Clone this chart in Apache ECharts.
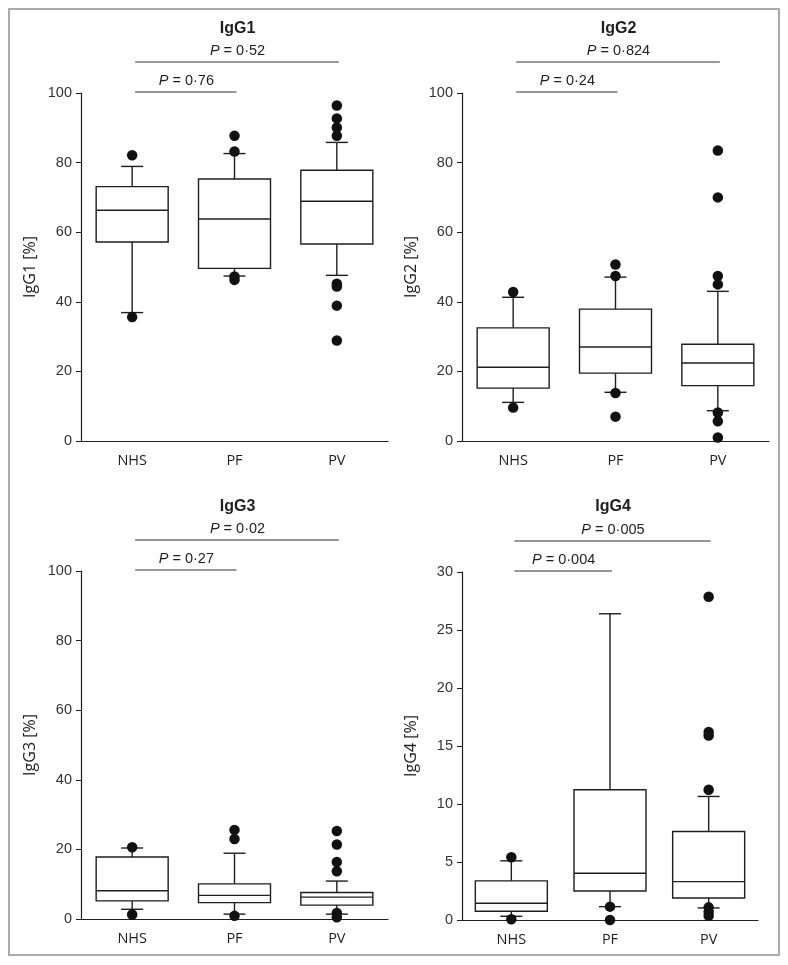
<!DOCTYPE html>
<html>
<head>
<meta charset="utf-8">
<script src="https://cdn.jsdelivr.net/npm/echarts@6/dist/echarts.min.js"></script>
<style>
html,body{margin:0;padding:0;background:#fff;}
#chart{width:788px;height:965px;}
</style>
</head>
<body>
<div id="chart"></div>
<script>
// ---- data ----
const categories = ['NHS', 'PF', 'PV'];
const panelTitles = ['IgG1', 'IgG2', 'IgG3', 'IgG4'];
const yAxisNames = ['IgG1 [%]', 'IgG2 [%]', 'IgG3 [%]', 'IgG4 [%]'];
const yMaxes = [100, 100, 100, 30];
const yIntervals = [20, 20, 20, 5];

// box stats per category: [lower whisker, Q1, median, Q3, upper whisker]
const igg1Box = [[36.9, 57.2, 66.3, 73.1, 78.9], [47.4, 49.6, 63.8, 75.3, 82.6], [47.6, 56.6, 68.9, 77.8, 85.8]];
const igg2Box = [[11.1, 15.2, 21.2, 32.5, 41.3], [14.0, 19.5, 27.0, 37.9, 47.1], [8.7, 15.9, 22.4, 27.8, 43.0]];
const igg3Box = [[2.8, 5.2, 8.1, 17.8, 20.4], [1.4, 4.7, 6.8, 10.1, 18.9], [1.4, 4.0, 6.3, 7.6, 10.9]];
const igg4Box = [[0.32, 0.75, 1.44, 3.37, 5.1], [1.15, 2.5, 4.03, 11.23, 26.4], [1.04, 1.9, 3.31, 7.63, 10.65]];

// outliers per category
const igg1Out = [[82.1, 35.6], [87.7, 83.2, 47.3, 46.3], [96.4, 92.7, 90.1, 87.7, 45.2, 44.4, 38.9, 28.9]];
const igg2Out = [[42.8, 9.6], [50.7, 47.4, 13.8, 7.0], [83.5, 70.0, 47.4, 45.0, 8.2, 5.7, 1.0]];
const igg3Out = [[20.6, 1.3], [25.6, 23.0, 0.9], [25.3, 21.4, 16.4, 13.7, 1.7, 0.5]];
const igg4Out = [[5.41, 0.06], [1.15, 0.0], [27.87, 16.2, 15.9, 11.23, 1.09, 0.72, 0.37]];

// p-value comparisons: NHS vs PF (short), NHS vs PV (long)
const pShort = ['0·76', '0·24', '0·27', '0·004'];
const pLong = ['0·52', '0·824', '0·02', '0·005'];

const boxes = [igg1Box, igg2Box, igg3Box, igg4Box];
const outs = [igg1Out, igg2Out, igg3Out, igg4Out];

// ---- layout ----
const grids = [
  {left: 81, top: 93, width: 307, height: 348},
  {left: 462, top: 93, width: 307, height: 348},
  {left: 81, top: 571, width: 307, height: 348},
  {left: 462, top: 572, width: 296, height: 348}
];
const INK = '#1e1e1e';
const chart = echarts.init(document.getElementById('chart'), null, {renderer: 'canvas'});

const option = {
  backgroundColor: '#fff',
  animation: false,
  title: [],
  grid: [],
  xAxis: [],
  yAxis: [],
  series: [],
  graphic: [{
    type: 'rect', shape: {x: 9, y: 9, width: 770, height: 946},
    style: {fill: 'none', stroke: '#aaaaaa', lineWidth: 2}, silent: true
  }]
};

for (let p = 0; p < 4; p++) {
  const g = grids[p];
  option.grid.push(Object.assign({containLabel: false}, g));
  option.title.push({
    text: panelTitles[p], left: g.left + g.width / 2 - 2, top: p < 2 ? 16 : 494, textAlign: 'center',
    textStyle: {fontFamily: 'Liberation Sans', fontWeight: 'bold', fontSize: 16, color: INK}
  });
  option.xAxis.push({
    type: 'category', gridIndex: p, data: categories, boundaryGap: true,
    axisLine: {lineStyle: {color: INK, width: 1.2}},
    axisTick: {alignWithLabel: true, length: 5, lineStyle: {color: INK}},
    axisLabel: {fontFamily: 'Open Sans', fontSize: 14.5, color: INK, margin: 12},
    splitLine: {show: false}
  });
  option.yAxis.push({
    type: 'value', gridIndex: p, min: 0, max: yMaxes[p], interval: yIntervals[p],
    name: yAxisNames[p], nameLocation: 'middle', nameGap: 43,
    nameTextStyle: {fontFamily: 'Open Sans', fontSize: 16, color: INK},
    axisLine: {show: true, lineStyle: {color: INK, width: 1.2}},
    axisTick: {show: true, length: 5, lineStyle: {color: INK}},
    axisLabel: {fontFamily: 'Liberation Sans', fontSize: 14.5, color: '#333', margin: 9},
    splitLine: {show: false}
  });

  // box series
  option.series.push({
    type: 'custom', xAxisIndex: p, yAxisIndex: p, clip: false,
    encode: {x: 0, y: [1, 2, 3, 4, 5]},
    data: boxes[p].map((b, i) => [i].concat(b)),
    renderItem: function (params, api) {
      const i = api.value(0);
      const lo = api.coord([i, api.value(1)]);
      const q1 = api.coord([i, api.value(2)]);
      const md = api.coord([i, api.value(3)]);
      const q3 = api.coord([i, api.value(4)]);
      const hi = api.coord([i, api.value(5)]);
      const cx = lo[0];
      const bw = 72, cw = 22;
      const ls = {stroke: INK, lineWidth: 1.4, fill: 'none'};
      return {
        type: 'group',
        children: [
          {type: 'line', shape: {x1: cx, y1: q3[1], x2: cx, y2: hi[1]}, style: ls},
          {type: 'line', shape: {x1: cx, y1: q1[1], x2: cx, y2: lo[1]}, style: ls},
          {type: 'line', shape: {x1: cx - cw / 2, y1: hi[1], x2: cx + cw / 2, y2: hi[1]}, style: ls},
          {type: 'line', shape: {x1: cx - cw / 2, y1: lo[1], x2: cx + cw / 2, y2: lo[1]}, style: ls},
          {type: 'rect', shape: {x: cx - bw / 2, y: q3[1], width: bw, height: q1[1] - q3[1]}, style: {stroke: INK, lineWidth: 1.4, fill: '#fff'}},
          {type: 'line', shape: {x1: cx - bw / 2, y1: md[1], x2: cx + bw / 2, y2: md[1]}, style: ls}
        ]
      };
    },
    z: 2
  });

  // outliers
  const od = [];
  outs[p].forEach((arr, i) => arr.forEach(v => od.push([i, v])));
  option.series.push({
    type: 'scatter', xAxisIndex: p, yAxisIndex: p, data: od,
    symbol: 'circle', symbolSize: 10.5, itemStyle: {color: '#111', opacity: 1}, z: 5, clip: false
  });

  // p-value brackets
  const labels = [pShort[p], pLong[p]];
  const ymax = yMaxes[p];
  option.series.push({
    type: 'custom', xAxisIndex: p, yAxisIndex: p, clip: false,
    encode: {x: [0, 1], y: 2},
    data: [[0, 1, ymax], [0, 2, ymax]],
    renderItem: function (params, api) {
      const a = api.coord([api.value(0), api.value(2)]);
      const b = api.coord([api.value(1), api.value(2)]);
      const off = params.dataIndex === 0 ? -1 : -31;
      const y = a[1] + off;
      return {
        type: 'group',
        children: [
          {type: 'line', shape: {x1: a[0] + 3, y1: y, x2: b[0] + 2, y2: y}, style: {stroke: '#333', lineWidth: 1.1}},
          {type: 'text', x: (a[0] + b[0]) / 2 + 3, y: y - 11,
            style: {text: '{i|P} = ' + labels[params.dataIndex], align: 'center', verticalAlign: 'middle',
              fontFamily: 'Liberation Sans', fontSize: 14.5, fill: INK,
              rich: {i: {fontStyle: 'italic', fontFamily: 'Liberation Sans', fontSize: 14.5, fill: INK}}}}
        ]
      };
    },
    z: 3
  });
}

chart.setOption(option);
</script>
</body>
</html>
